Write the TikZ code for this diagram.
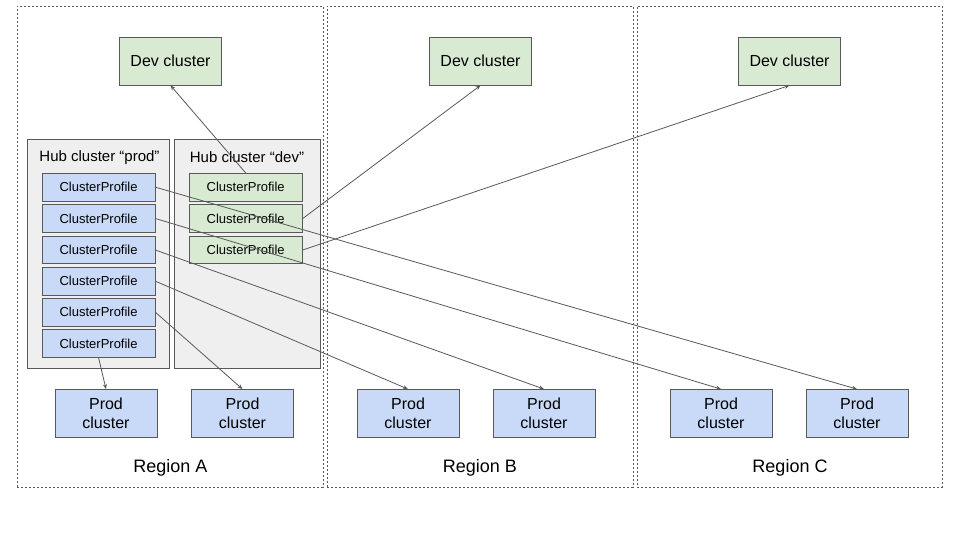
\documentclass[tikz,border=0pt]{standalone}
\usepackage{fontspec}
\setmainfont{Liberation Sans}
\usetikzlibrary{arrows.meta}
\definecolor{bluef}{HTML}{C9DAF8}
\definecolor{greenf}{HTML}{D9EAD3}
\definecolor{hubf}{HTML}{EFEFEF}
\definecolor{edge}{HTML}{595959}
\tikzset{
  box/.style={draw=edge, line width=0.8pt, inner sep=0pt, align=center},
  cp/.style={box, fill=bluef, minimum width=112.7pt, minimum height=27.7pt, font=\fontsize{13}{15}\selectfont},
  cpd/.style={cp, fill=greenf, minimum width=113.3pt},
  hub/.style={box, fill=hubf, minimum height=228.7pt},
  devc/.style={box, fill=greenf, minimum width=102pt, minimum height=48pt, font=\fontsize{16}{19}\selectfont},
  prodc/.style={devc, fill=bluef},
  region/.style={draw=edge, line width=0.7pt, dash pattern=on 2.2pt off 1.8pt, minimum height=481pt, inner sep=0pt},
  rlabel/.style={font=\fontsize{18}{21}\selectfont},
  hlabel/.style={font=\fontsize{15}{17}\selectfont},
  conn/.style={draw=edge, line width=0.8pt, -{Stealth[length=5pt,width=4pt]}},
}
\begin{document}
\begin{tikzpicture}[x=1pt,y=-1pt]
\path[use as bounding box, fill=white] (0,0) rectangle (960,540);
% regions
\node[region, minimum width=306pt] (regA) at (170,246.5) {};
\node[region, minimum width=306pt] (regB) at (480,246.5) {};
\node[region, minimum width=305pt] (regC) at (789.5,246.5) {};
\node[rlabel] (labA) at (170.5,468) {Region A};
\node[rlabel] (labB) at (480,468) {Region B};
\node[rlabel] (labC) at (790,468) {Region C};
% dev clusters
\node[devc] (devA) at (170.5,61) {Dev cluster};
\node[devc] (devB) at (480.5,61) {Dev cluster};
\node[devc] (devC) at (789.5,61) {Dev cluster};
% hubs
\node[hub, minimum width=141.7pt] (hubP) at (98.2,253.6) {};
\node[hub, minimum width=146pt] (hubD) at (247,253.6) {};
\node[hlabel] (hubPl) at (99.5,157.5) {Hub cluster “prod”};
\node[hlabel] (hubDl) at (247,157.5) {Hub cluster “dev”};
% prod cluster profiles
\node[cp] (p1) at (98.6,187.2) {ClusterProfile};
\node[cp] (p2) at (98.6,218.5) {ClusterProfile};
\node[cp] (p3) at (98.6,250) {ClusterProfile};
\node[cp] (p4) at (98.6,281.2) {ClusterProfile};
\node[cp] (p5) at (98.6,312.2) {ClusterProfile};
\node[cp] (p6) at (98.6,343.6) {ClusterProfile};
% dev cluster profiles
\node[cpd] (d1) at (245.7,187.2) {ClusterProfile};
\node[cpd] (d2) at (245.7,218.5) {ClusterProfile};
\node[cpd] (d3) at (245.7,250) {ClusterProfile};
% prod clusters
\node[prodc] (cA1) at (106,413.5) {Prod\\cluster};
\node[prodc] (cA2) at (242.5,413.5) {Prod\\cluster};
\node[prodc] (cB1) at (408,413.5) {Prod\\cluster};
\node[prodc] (cB2) at (544,413.5) {Prod\\cluster};
\node[prodc] (cC1) at (721,413.5) {Prod\\cluster};
\node[prodc] (cC2) at (857,413.5) {Prod\\cluster};
% connectors
\draw[conn] (d1.north) -- (devA.south);
\draw[conn] (d2.east) -- (devB.south);
\draw[conn] (d3.east) -- (devC.south);
\draw[conn] (p1.east) -- (cC2.north);
\draw[conn] (p2.east) -- (cC1.north);
\draw[conn] (p3.east) -- (cB2.north);
\draw[conn] (p4.east) -- (cB1.north);
\draw[conn] (p5.east) -- (cA2.north);
\draw[conn] (p6.south) -- (cA1.north);
\end{tikzpicture}
\end{document}
